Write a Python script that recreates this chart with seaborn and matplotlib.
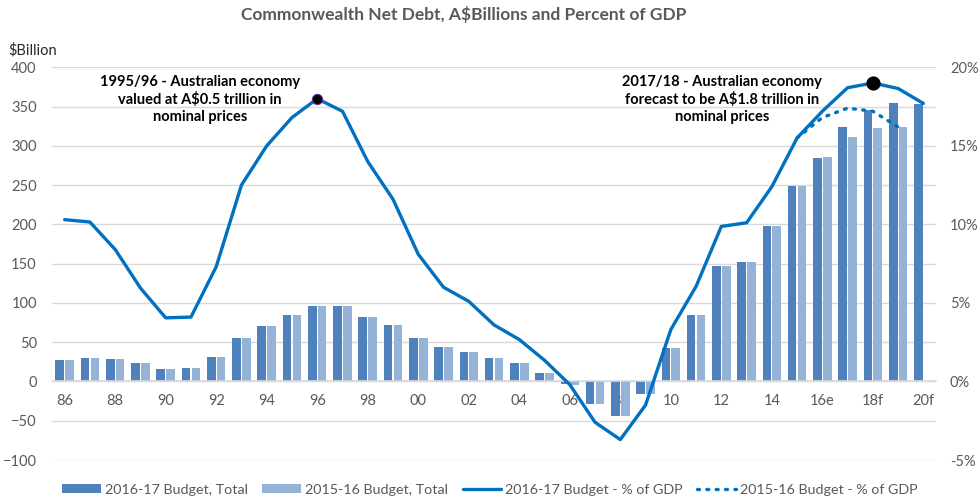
import numpy as np
import pandas as pd
import matplotlib
matplotlib.use("Agg")
import matplotlib.pyplot as plt
import seaborn as sns
from matplotlib.patches import Patch
from matplotlib.lines import Line2D

# ---------------- data ----------------
categories = ['86', '87', '88', '89', '90', '91', '92', '93', '94', '95',
              '96', '97', '98', '99', '00', '01', '02', '03', '04', '05',
              '06', '07', '08', '09', '10', '11', '12', '13', '14', '15',
              '16e', '17f', '18f', '19f', '20f']
tick_labels = categories[::2]

debt_2016_17 = [27, 30, 28, 23, 16, 17, 31, 55, 70, 84,
                96, 96, 82, 72.5, 55, 43.6, 38, 29.7, 22.9, 11.4,
                -3, -28.4, -44, -15.7, 42.4, 84, 146.6, 152, 198, 249,
                284, 324, 345, 355, 353]
debt_2015_16 = [27, 30, 28, 23, 16, 17, 31, 55, 70, 84,
                96, 96, 82, 72.5, 55, 43.6, 38, 29.7, 22.9, 11.4,
                -4, -28.4, -44, -16, 42.4, 84, 146.6, 152, 198, 249,
                285.5, 311, 323, 324, np.nan]
pct_2016_17 = [10.3, 10.15, 8.4, 5.95, 4.05, 4.1, 7.3, 12.5, 15.0, 16.8,
               18.0, 17.2, 14.0, 11.6, 8.1, 6.0, 5.1, 3.6, 2.67, 1.35,
               -0.2, -2.6, -3.7, -1.5, 3.3, 6.05, 9.87, 10.1, 12.4, 15.5,
               17.2, 18.7, 19.0, 18.65, 17.7]
pct_2015_16 = [np.nan] * 29 + [15.5, 16.8, 17.4, 17.2, 16.2, np.nan]

series_names = ['2016-17 Budget, Total', '2015-16 Budget, Total']
line_names = ['2016-17 Budget - % of GDP', '2015-16 Budget - % of GDP']
highlight = ['96', '18f']

title = 'Commonwealth Net Debt, A$Billions and Percent of GDP'
note1 = '1995/96 - Australian economy\nvalued at A$0.5 trillion in\nnominal prices'
note2 = '2017/18 - Australian economy\nforecast to be A$1.8 trillion in\nnominal prices'

# ---------------- style ----------------
dark_c = '#4F81BD'
light_c = '#95B3D7'
line_c = '#0070C0'
grid_c = '#D9D9D9'
text_c = '#595959'

sns.set_theme(style='white')
plt.rcParams['font.family'] = ['Lato', 'DejaVu Sans']

df = pd.DataFrame({
    'cat': categories * 2,
    'value': debt_2016_17 + debt_2015_16,
    'series': [series_names[0]] * len(categories) + [series_names[1]] * len(categories),
})

fig = plt.figure(figsize=(9.8, 5.01), dpi=100)
ax = fig.add_axes([0.0531, 0.0818, 0.902, 0.7839])

sns.barplot(data=df, x='cat', y='value', hue='series', order=categories,
            hue_order=series_names, palette=[dark_c, light_c], saturation=1,
            width=0.78, gap=0.12, linewidth=0, legend=False, ax=ax)

ax.set_xlim(-0.5, len(categories) - 0.5)
ax.set_ylim(-100, 400)
ax.set_yticks(np.arange(-100, 401, 50))
ax.yaxis.grid(True, color=grid_c, lw=1)
ax.set_axisbelow(True)
for s in ['top', 'right', 'left']:
    ax.spines[s].set_visible(False)
ax.spines['bottom'].set_position(('data', 0))
ax.spines['bottom'].set_color(grid_c)
ax.spines['bottom'].set_linewidth(1.2)
ax.set_xticks(range(0, len(categories), 2))
ax.set_xticklabels(tick_labels)
ax.tick_params(axis='x', length=0, pad=9, labelsize=10.5, labelcolor=text_c)
ax.tick_params(axis='y', length=0, pad=11, labelsize=10.5, labelcolor=text_c)
ax.set_xlabel('')
ax.set_ylabel('')

ax2 = ax.twinx()
ax2.set_ylim(-5, 20)
ax2.set_yticks(np.arange(-5, 21, 5))
ax2.set_yticklabels([f'{v}%' for v in range(-5, 21, 5)])
ax2.tick_params(axis='y', length=0, pad=10, labelsize=10.5, labelcolor=text_c)
for s in ax2.spines.values():
    s.set_visible(False)
ax2.grid(False)

xpos = np.arange(len(categories))
sns.lineplot(x=xpos, y=pct_2016_17, color=line_c, lw=2.4, ax=ax2)
ax2.plot(xpos, pct_2015_16, color=line_c, lw=2.4,
         linestyle=(0, (0.6, 2.2)), dash_capstyle='round')

hi_idx = [categories.index(h) for h in highlight]
ax2.scatter([hi_idx[0]], [pct_2016_17[hi_idx[0]]], s=55, color='black',
            edgecolor='#7030A0', linewidth=0.8, zorder=5)
ax2.scatter([hi_idx[1]], [pct_2016_17[hi_idx[1]]], s=85, color='black',
            zorder=5)
ax2.set_xlim(-0.5, len(categories) - 0.5)

ax.text(5.36, 359, note1, ha='center', va='center', fontsize=10.5,
        fontweight='bold', color='black', linespacing=1.3)
ax.text(26.02, 359, note2, ha='center', va='center', fontsize=10.5,
        fontweight='bold', color='black', linespacing=1.3)

fig.text(0.473, 0.972, title, ha='center', va='center', fontsize=12.5,
         fontweight='bold', color=text_c)
fig.text(0.008, 0.9, '$Billion', ha='left', va='center', fontsize=10.5,
         color='#262626')

handles = [Patch(facecolor=dark_c, edgecolor='none'),
           Patch(facecolor=light_c, edgecolor='none'),
           Line2D([], [], color=line_c, lw=2.4),
           Line2D([], [], color=line_c, lw=2.4, linestyle=(0, (0.6, 2.2)),
                  dash_capstyle='round')]
leg = fig.legend(handles, series_names + line_names, loc='center',
                 bbox_to_anchor=(0.5, 0.022), ncol=4, frameon=False,
                 fontsize=10.3, handlelength=2.7, handleheight=0.6,
                 handletextpad=0.3, columnspacing=1.0, borderaxespad=0)
for t in leg.get_texts():
    t.set_color(text_c)

fig.savefig('out.png', dpi=100)
